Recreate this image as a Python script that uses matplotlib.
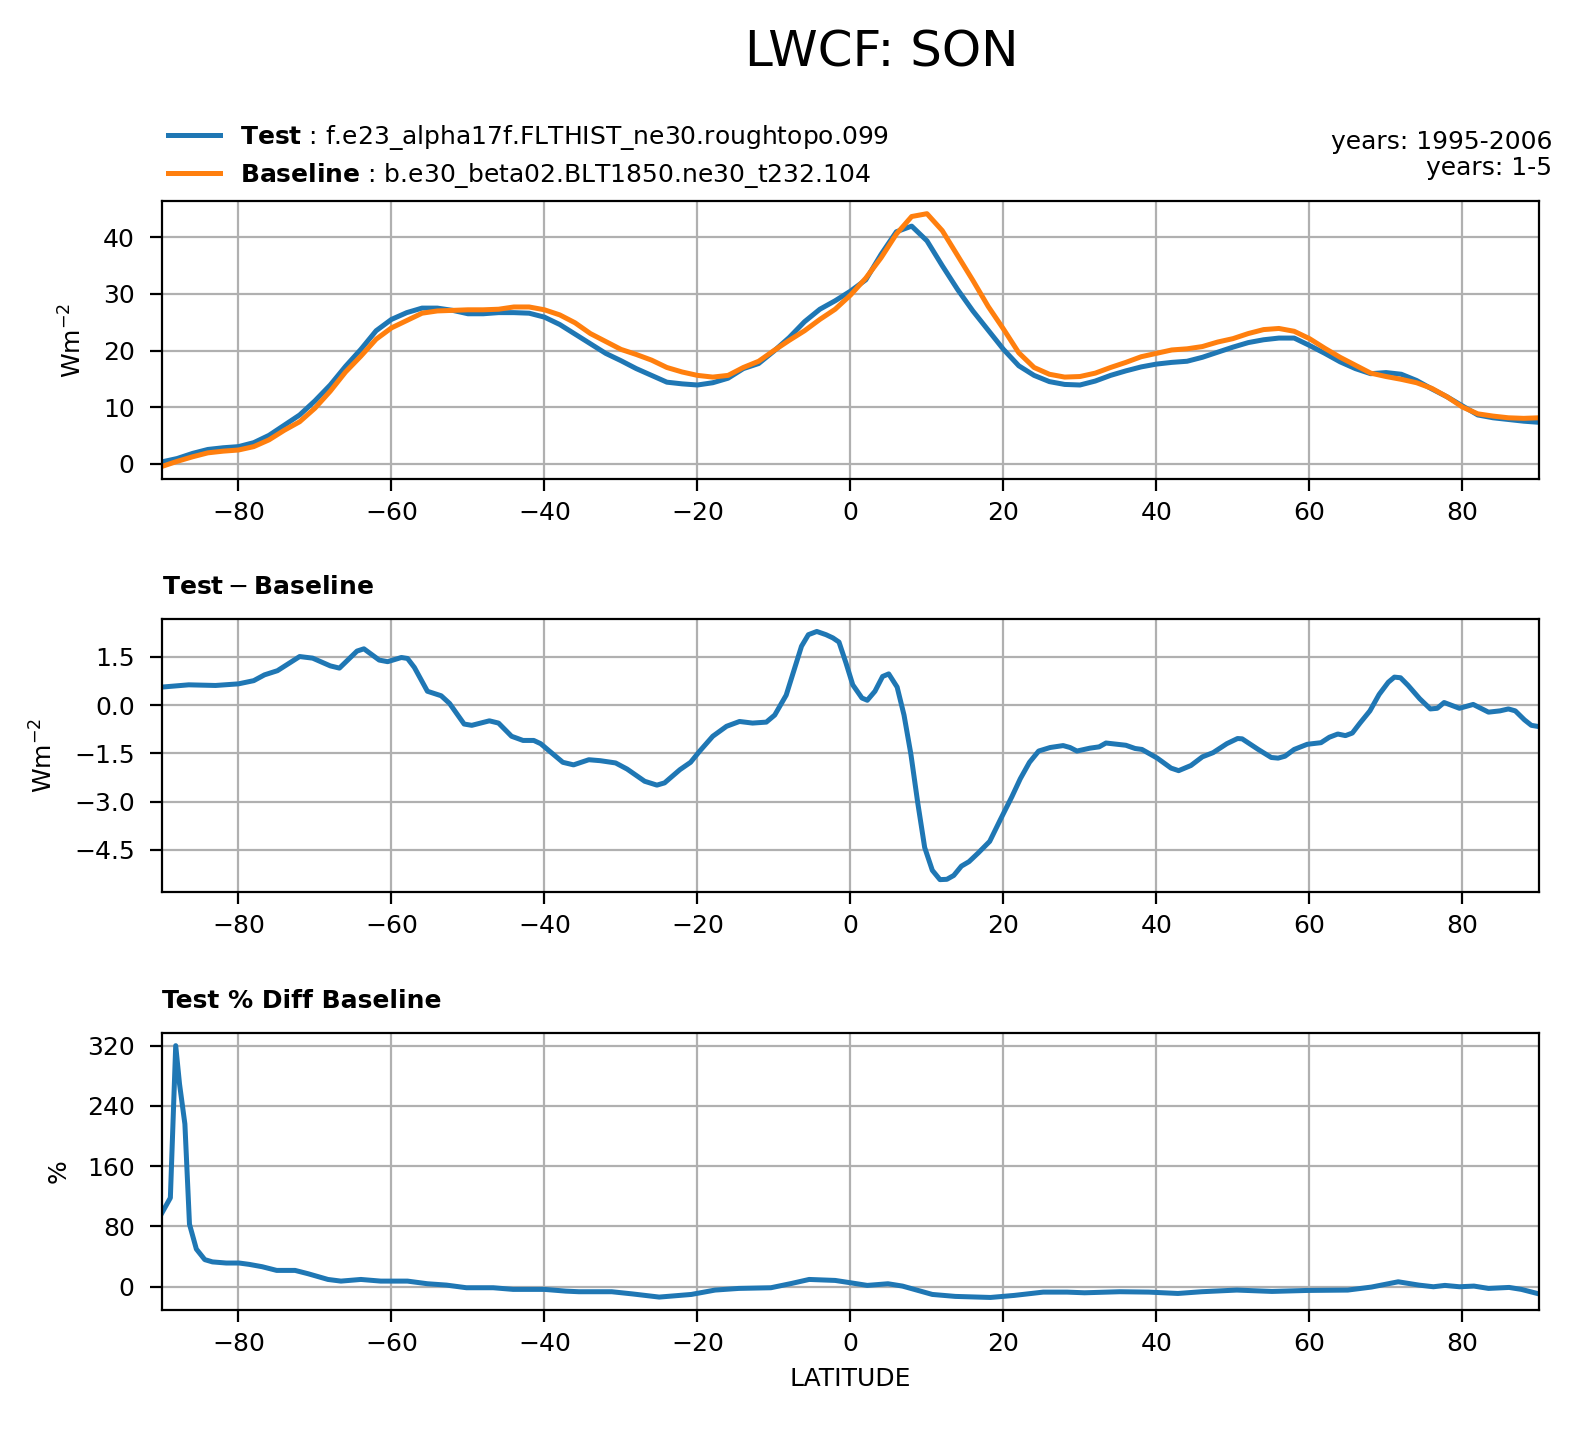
import numpy as np
import matplotlib
matplotlib.use("Agg")
import matplotlib.pyplot as plt

lat = np.arange(-90, 91, 2)

test_vals = [
    0.3, 0.9, 1.8, 2.5, 2.8, 3.0, 3.7, 5.0, 6.8, 8.6,
    11.1, 13.9, 17.2, 20.2, 23.5, 25.5, 26.7, 27.5, 27.5, 27.1,
    26.5, 26.5, 26.7, 26.7, 26.6, 25.9, 24.6, 22.9, 21.2, 19.5,
    18.2, 16.8, 15.6, 14.4, 14.1, 13.9, 14.3, 15.1, 16.8, 17.7,
    19.9, 22.3, 25.1, 27.3, 28.8, 30.5, 32.5, 37.0, 41.0, 42.0,
    39.4, 35.0, 30.8, 27.0, 23.6, 20.2, 17.3, 15.6, 14.5, 14.0,
    13.9, 14.6, 15.6, 16.4, 17.1, 17.6, 17.9, 18.1, 18.8, 19.7,
    20.6, 21.4, 21.9, 22.2, 22.2, 20.9, 19.5, 18.0, 16.8, 15.9,
    16.1, 15.8, 14.7, 13.2, 11.8, 10.2, 8.6, 8.1, 7.8, 7.5,
    7.3,
]

base_vals = [
    -0.5, 0.4, 1.2, 1.9, 2.2, 2.4, 3.0, 4.2, 5.9, 7.4,
    9.8, 12.8, 16.2, 19.0, 22.0, 24.0, 25.3, 26.6, 27.0, 27.1,
    27.2, 27.2, 27.3, 27.7, 27.7, 27.2, 26.3, 24.9, 23.0, 21.6,
    20.2, 19.3, 18.3, 17.0, 16.2, 15.6, 15.3, 15.6, 17.0, 18.1,
    20.0, 21.8, 23.5, 25.5, 27.3, 29.8, 32.8, 36.4, 40.6, 43.7,
    44.2, 41.2, 36.8, 32.4, 27.8, 23.8, 19.6, 17.0, 15.8, 15.3,
    15.4, 16.0, 17.0, 17.9, 18.9, 19.5, 20.1, 20.3, 20.7, 21.5,
    22.1, 23.0, 23.7, 23.9, 23.4, 22.1, 20.4, 18.8, 17.4, 16.0,
    15.4, 14.9, 14.3, 13.3, 11.8, 10.0, 8.8, 8.4, 8.1, 8.0,
    8.1,
]

diff_lat = [
    -90.0, -86.5, -83.0, -80.0, -78.0, -76.6, -74.9, -72.0, -70.3, -68.0,
    -66.8, -64.5, -63.6, -61.6, -60.5, -58.7, -57.9, -57.0, -55.3, -53.5,
    -52.4, -50.5, -49.5, -47.2, -46.0, -44.3, -42.8, -41.4, -40.5, -37.6,
    -36.2, -34.2, -32.7, -30.7, -29.2, -26.9, -25.3, -24.3, -22.3, -20.9,
    -19.7, -18.0, -16.2, -14.5, -12.8, -11.0, -9.9, -8.4, -6.4, -5.5,
    -4.4, -3.2, -2.3, -1.5, -0.6, 0.3, 1.5, 2.2, 3.2, 4.2,
    5.0, 6.1, 7.0, 7.9, 8.8, 9.7, 10.7, 11.7, 12.6, 13.5,
    14.5, 15.5, 16.7, 18.2, 19.6, 21.1, 22.2, 23.4, 24.6, 26.1,
    27.8, 28.7, 29.6, 31.3, 32.5, 33.4, 36.0, 37.2, 38.1, 40.1,
    41.9, 42.9, 44.5, 46.0, 47.4, 49.2, 50.6, 51.2, 53.3, 55.0,
    55.9, 56.8, 58.0, 59.7, 61.5, 62.6, 63.7, 64.7, 65.6, 66.6,
    67.9, 69.1, 70.3, 71.1, 71.9, 72.9, 74.4, 75.8, 76.7, 77.6,
    79.6, 81.4, 83.4, 84.9, 86.0, 86.9, 88.1, 89.0, 90.0,
]

diff_vals = [
    0.56, 0.63, 0.61, 0.66, 0.76, 0.94, 1.07, 1.51, 1.46, 1.22,
    1.15, 1.68, 1.75, 1.40, 1.35, 1.48, 1.45, 1.17, 0.43, 0.29,
    0.05, -0.59, -0.63, -0.49, -0.56, -0.97, -1.10, -1.10, -1.20, -1.78,
    -1.86, -1.70, -1.73, -1.80, -1.99, -2.37, -2.49, -2.42, -2.01, -1.78,
    -1.43, -0.97, -0.66, -0.51, -0.56, -0.53, -0.31, 0.31, 1.83, 2.19,
    2.29, 2.19, 2.09, 1.96, 1.32, 0.63, 0.22, 0.15, 0.43, 0.89,
    0.97, 0.56, -0.31, -1.53, -3.05, -4.43, -5.14, -5.43, -5.42, -5.30,
    -5.01, -4.87, -4.60, -4.24, -3.56, -2.85, -2.29, -1.78, -1.43, -1.32,
    -1.26, -1.32, -1.43, -1.34, -1.30, -1.18, -1.25, -1.35, -1.38, -1.65,
    -1.96, -2.04, -1.88, -1.61, -1.48, -1.20, -1.04, -1.05, -1.38, -1.63,
    -1.65, -1.59, -1.38, -1.22, -1.17, -1.00, -0.90, -0.95, -0.87, -0.56,
    -0.18, 0.33, 0.71, 0.87, 0.85, 0.61, 0.20, -0.12, -0.10, 0.08,
    -0.10, 0.02, -0.22, -0.18, -0.12, -0.18, -0.46, -0.63, -0.67,
]

pct_lat = [
    -90.0, -88.9, -88.2, -87.7, -87.0, -86.4, -85.5, -84.4, -83.4, -81.6,
    -79.9, -78.6, -76.9, -75.0, -72.6, -70.9, -68.3, -66.6, -64.0, -61.4,
    -57.9, -55.3, -52.8, -50.2, -46.7, -44.1, -40.0, -37.2, -35.5, -31.2,
    -28.5, -25.0, -20.8, -17.7, -14.6, -10.4, -7.7, -5.4, -2.0, 0.0,
    2.2, 4.9, 6.8, 10.7, 13.7, 18.3, 21.4, 25.2, 28.3, 30.6,
    35.2, 39.0, 42.8, 45.9, 50.5, 55.1, 59.7, 65.0, 68.1, 71.6,
    74.3, 76.2, 77.7, 79.6, 81.5, 83.4, 86.1, 87.7, 90.0,
]

pct_vals = [
    98, 118, 320, 269, 216, 83, 50, 36, 33, 31.5,
    31.5, 29.7, 26.6, 21.7, 21.7, 17.3, 9.7, 7.5, 9.7, 7.5,
    7.5, 4.0, 2.2, -1.3, -1.3, -3.5, -3.5, -5.8, -6.6, -6.6,
    -9.5, -13.7, -10.2, -4.4, -2.2, -1.3, 4.4, 9.7, 8.4, 5.3,
    1.8, 4.0, 0.9, -10.2, -12.8, -14.2, -11.5, -7.1, -7.1, -8.0,
    -6.6, -7.1, -8.9, -6.6, -4.4, -6.2, -4.9, -4.4, -0.4, 6.6,
    2.2, 0.0, 1.8, 0.0, 0.9, -2.2, -0.9, -3.5, -9.5,
]

test_name = "f.e23_alpha17f.FLTHIST_ne30.roughtopo.099"
base_name = "b.e30_beta02.BLT1850.ne30_t232.104"
xticks = [-80, -60, -40, -20, 0, 20, 40, 60, 80]

DPI = 200
fig = plt.figure(figsize=(1583 / DPI, 1433 / DPI), dpi=DPI)

fs = 9
lw = 1.8

ax1 = fig.add_axes([0.1023, 0.6657, 0.8699, 0.1940])
ax2 = fig.add_axes([0.1023, 0.3775, 0.8699, 0.1905])
ax3 = fig.add_axes([0.1023, 0.0858, 0.8699, 0.1933])

ax1.plot(lat, test_vals, color="C0", linewidth=lw,
         label=r"$\bf{Test}$ : " + test_name)
ax1.plot(lat, base_vals, color="C1", linewidth=lw,
         label=r"$\bf{Baseline}$ : " + base_name)
ax1.set_yticks([0, 10, 20, 30, 40])
ax1.set_ylabel("Wm$^{-2}$", fontsize=fs, labelpad=6)
ax1.legend(loc="lower left", bbox_to_anchor=(-0.003, 1.005), frameon=False,
           fontsize=fs, borderaxespad=0, handlelength=2.1, labelspacing=0.35)
ax1.text(1.0095, 1.0755, "years: 1995-2006\nyears: 1-5", transform=ax1.transAxes,
         ha="right", va="bottom", multialignment="right", fontsize=fs,
         linespacing=1.1)

ax2.plot(diff_lat, diff_vals, color="C0", linewidth=lw)
ax2.set_yticks([1.5, 0.0, -1.5, -3.0, -4.5])
ax2.set_ylabel("Wm$^{-2}$", fontsize=fs, labelpad=6)
ax2.text(0, 1.0906, r"$\mathbf{Test} - \mathbf{Baseline}$", transform=ax2.transAxes,
         ha="left", va="baseline", fontsize=fs)

ax3.plot(pct_lat, pct_vals, color="C0", linewidth=lw)
ax3.set_yticks([0, 80, 160, 240, 320])
ax3.set_ylabel("%", fontsize=fs, labelpad=6)
ax3.text(0, 1.089, "Test % Diff Baseline", transform=ax3.transAxes,
         ha="left", va="baseline", fontsize=fs, fontweight="bold")
ax3.set_xlabel("LATITUDE", fontsize=fs)

for ax in (ax1, ax2, ax3):
    ax.set_xlim(-90, 90)
    ax.set_xticks(xticks)
    ax.grid(True, color="#b0b0b0", linewidth=0.8)
    ax.tick_params(labelsize=fs, length=4.3)
    ax.tick_params(axis="y", pad=5.5)

fig.text(0.557, 0.9535, "LWCF: SON", ha="center", va="baseline", fontsize=18)

fig.savefig("out.png", dpi=DPI)
